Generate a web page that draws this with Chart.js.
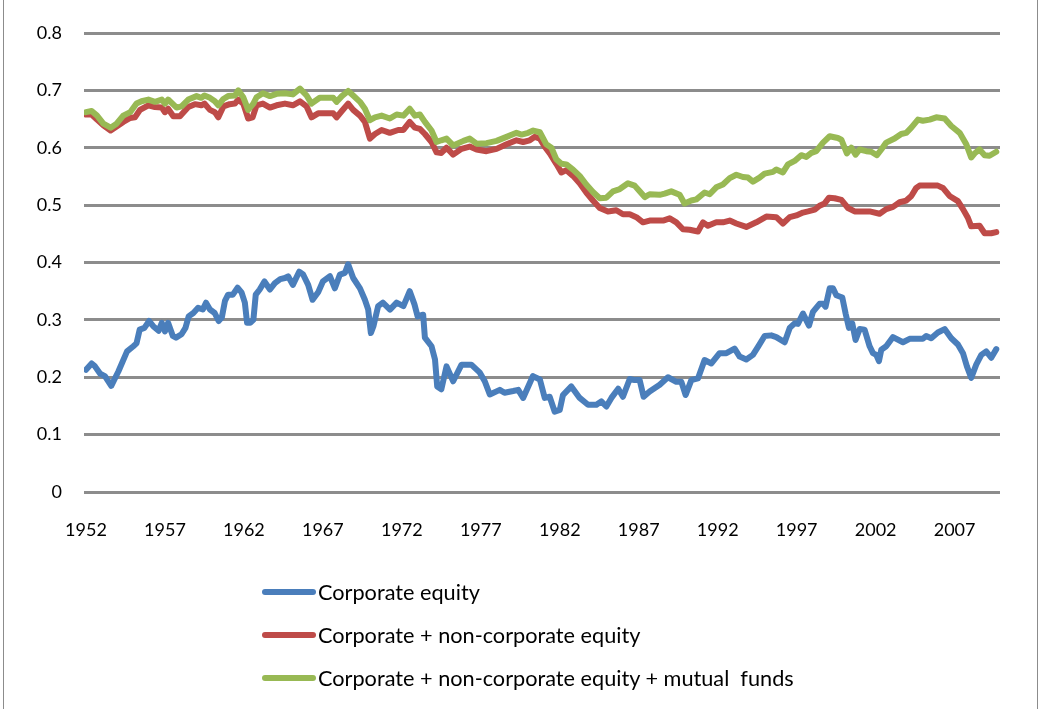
<!DOCTYPE html>
<html>
<head>
<meta charset="utf-8">
<script src="https://cdn.jsdelivr.net/npm/chart.js@4/dist/chart.umd.min.js"></script>
<style>
  body { margin: 0; background: #fff; }
  #wrap { position: relative; width: 1041px; height: 709px; }
  #frame {
    position: absolute; left: 3px; top: 0; width: 1033px; height: 709px;
    border-left: 1px solid #8c8c8c; border-right: 1px solid #8c8c8c;
    pointer-events: none;
  }
  #legend {
    position: absolute; left: 262px; top: 570px;
    font-family: Lato, "Liberation Sans", sans-serif; font-size: 21.7px; color: #000;
  }
  .item { display: flex; align-items: center; height: 43px; white-space: pre; }
  .swatch { width: 54px; height: 6px; border-radius: 3px; margin-right: 2px; }
</style>
</head>
<body>
<div id="wrap">
  <canvas id="chart"></canvas>
  <div id="frame"></div>
  <div id="legend"></div>
</div>
<script>
// year positions (fractional, quarterly-ish) and shares
const equityYears = [1952.0, 1952.36, 1952.57, 1952.9, 1953.2, 1953.6, 1954.05, 1954.6, 1955.0, 1955.2, 1955.4, 1955.7, 1956.0, 1956.26, 1956.6, 1956.8, 1957.0, 1957.2, 1957.5, 1957.7, 1958.05, 1958.3, 1958.5, 1958.8, 1959.1, 1959.4, 1959.6, 1959.85, 1960.15, 1960.4, 1960.6, 1960.8, 1961.0, 1961.3, 1961.6, 1961.85, 1962.06, 1962.2, 1962.4, 1962.6, 1962.75, 1963.0, 1963.3, 1963.65, 1963.96, 1964.3, 1964.6, 1964.8, 1965.1, 1965.5, 1965.75, 1966.07, 1966.35, 1966.7, 1967.0, 1967.45, 1967.76, 1968.08, 1968.4, 1968.6, 1968.92, 1969.35, 1969.66, 1969.87, 1970.04, 1970.2, 1970.5, 1970.8, 1971.25, 1971.67, 1972.1, 1972.5, 1972.8, 1973.0, 1973.35, 1973.46, 1973.88, 1974.1, 1974.24, 1974.5, 1974.83, 1975.25, 1975.78, 1976.4, 1976.94, 1977.25, 1977.57, 1978.2, 1978.5, 1979.05, 1979.37, 1979.68, 1980.3, 1980.74, 1981.05, 1981.36, 1981.68, 1982.0, 1982.2, 1982.73, 1983.26, 1983.79, 1984.32, 1984.63, 1984.95, 1985.27, 1985.7, 1986.0, 1986.43, 1986.74, 1987.06, 1987.31, 1987.69, 1988.33, 1988.85, 1989.38, 1989.7, 1989.97, 1990.33, 1990.75, 1991.17, 1991.6, 1992.12, 1992.55, 1993.07, 1993.39, 1993.81, 1994.23, 1994.55, 1994.97, 1995.39, 1995.71, 1996.24, 1996.56, 1996.87, 1997.08, 1997.4, 1997.78, 1998.03, 1998.45, 1998.67, 1998.83, 1999.09, 1999.3, 1999.51, 1999.89, 2000.1, 2000.31, 2000.52, 2000.73, 2000.99, 2001.3, 2001.62, 2001.83, 2002.04, 2002.21, 2002.36, 2002.67, 2003.1, 2003.73, 2004.15, 2004.99, 2005.2, 2005.52, 2005.94, 2006.37, 2006.79, 2007.21, 2007.53, 2007.78, 2008.05, 2008.37, 2008.69, 2009.0, 2009.32, 2009.64];
const equityValues = [0.213, 0.224, 0.219, 0.206, 0.202, 0.185, 0.21, 0.245, 0.254, 0.259, 0.283, 0.286, 0.298, 0.289, 0.281, 0.295, 0.28, 0.295, 0.272, 0.269, 0.275, 0.286, 0.306, 0.312, 0.321, 0.318, 0.33, 0.318, 0.312, 0.298, 0.304, 0.333, 0.344, 0.344, 0.356, 0.348, 0.33, 0.295, 0.295, 0.3, 0.344, 0.353, 0.367, 0.353, 0.364, 0.371, 0.373, 0.376, 0.361, 0.384, 0.379, 0.361, 0.335, 0.348, 0.367, 0.376, 0.355, 0.379, 0.382, 0.397, 0.373, 0.355, 0.335, 0.318, 0.277, 0.289, 0.324, 0.33, 0.318, 0.33, 0.324, 0.35, 0.327, 0.306, 0.309, 0.269, 0.254, 0.231, 0.184, 0.179, 0.219, 0.193, 0.222, 0.222, 0.208, 0.193, 0.17, 0.178, 0.173, 0.176, 0.178, 0.164, 0.202, 0.196, 0.164, 0.166, 0.14, 0.143, 0.169, 0.184, 0.164, 0.152, 0.152, 0.158, 0.149, 0.164, 0.18, 0.166, 0.197, 0.195, 0.195, 0.166, 0.175, 0.187, 0.2, 0.192, 0.192, 0.169, 0.195, 0.198, 0.23, 0.224, 0.242, 0.242, 0.25, 0.236, 0.231, 0.239, 0.253, 0.272, 0.273, 0.27, 0.261, 0.286, 0.294, 0.293, 0.311, 0.29, 0.314, 0.328, 0.328, 0.323, 0.355, 0.355, 0.343, 0.339, 0.311, 0.286, 0.294, 0.265, 0.284, 0.283, 0.254, 0.242, 0.239, 0.228, 0.248, 0.254, 0.27, 0.261, 0.267, 0.267, 0.272, 0.268, 0.278, 0.284, 0.268, 0.257, 0.242, 0.219, 0.199, 0.222, 0.239, 0.245, 0.234, 0.249];

const nonCorpYears = [1952.0, 1952.36, 1952.7, 1953.1, 1953.56, 1953.94, 1954.36, 1954.8, 1955.1, 1955.42, 1955.95, 1956.37, 1956.8, 1957.0, 1957.2, 1957.53, 1957.95, 1958.48, 1958.9, 1959.3, 1959.5, 1959.85, 1960.16, 1960.38, 1960.7, 1961.1, 1961.43, 1961.64, 1961.96, 1962.27, 1962.55, 1962.8, 1963.2, 1963.65, 1964.07, 1964.6, 1965.1, 1965.55, 1965.97, 1966.28, 1966.7, 1967.66, 1967.87, 1968.2, 1968.6, 1968.92, 1969.35, 1969.66, 1969.98, 1970.3, 1970.72, 1971.24, 1971.77, 1972.1, 1972.5, 1972.83, 1973.14, 1973.46, 1973.88, 1974.2, 1974.5, 1974.83, 1975.25, 1975.78, 1976.3, 1976.73, 1977.36, 1978.0, 1978.63, 1979.26, 1979.68, 1980.1, 1980.42, 1980.74, 1981.05, 1981.37, 1981.78, 1982.1, 1982.42, 1982.84, 1983.26, 1983.68, 1984.1, 1984.53, 1985.05, 1985.58, 1986.0, 1986.43, 1986.85, 1987.27, 1987.69, 1988.11, 1988.54, 1988.96, 1989.38, 1989.8, 1990.22, 1990.75, 1991.07, 1991.38, 1991.91, 1992.33, 1992.76, 1993.18, 1993.81, 1994.44, 1995.08, 1995.71, 1996.13, 1996.56, 1996.98, 1997.4, 1997.72, 1998.14, 1998.45, 1998.77, 1999.05, 1999.4, 1999.83, 2000.25, 2000.67, 2001.09, 2001.62, 2002.25, 2002.67, 2003.1, 2003.52, 2003.94, 2004.26, 2004.57, 2004.78, 2005.42, 2005.94, 2006.26, 2006.68, 2007.21, 2007.53, 2007.84, 2008.05, 2008.58, 2008.9, 2009.32, 2009.64];
const nonCorpValues = [0.658, 0.658, 0.649, 0.639, 0.63, 0.637, 0.645, 0.652, 0.653, 0.666, 0.674, 0.671, 0.67, 0.662, 0.668, 0.655, 0.655, 0.671, 0.676, 0.674, 0.677, 0.666, 0.662, 0.653, 0.672, 0.676, 0.677, 0.684, 0.677, 0.651, 0.653, 0.674, 0.677, 0.67, 0.674, 0.677, 0.674, 0.681, 0.672, 0.653, 0.66, 0.66, 0.653, 0.664, 0.677, 0.666, 0.656, 0.645, 0.616, 0.624, 0.631, 0.626, 0.631, 0.631, 0.645, 0.635, 0.633, 0.624, 0.61, 0.592, 0.591, 0.6, 0.588, 0.598, 0.602, 0.597, 0.594, 0.598, 0.606, 0.613, 0.61, 0.613, 0.619, 0.616, 0.602, 0.59, 0.572, 0.557, 0.561, 0.551, 0.538, 0.522, 0.508, 0.495, 0.489, 0.491, 0.484, 0.484, 0.479, 0.47, 0.473, 0.473, 0.473, 0.477, 0.47, 0.458, 0.457, 0.454, 0.47, 0.464, 0.47, 0.47, 0.473, 0.468, 0.462, 0.47, 0.48, 0.479, 0.468, 0.479, 0.482, 0.487, 0.489, 0.492, 0.499, 0.503, 0.513, 0.512, 0.509, 0.495, 0.489, 0.489, 0.489, 0.485, 0.493, 0.497, 0.505, 0.508, 0.516, 0.53, 0.534, 0.534, 0.534, 0.53, 0.516, 0.507, 0.493, 0.478, 0.463, 0.464, 0.451, 0.451, 0.453];

const fundsYears = [1952.0, 1952.36, 1952.7, 1953.1, 1953.56, 1953.94, 1954.36, 1954.8, 1955.2, 1955.52, 1955.95, 1956.37, 1956.8, 1957.0, 1957.2, 1957.74, 1958.05, 1958.48, 1959.0, 1959.3, 1959.5, 1959.85, 1960.16, 1960.38, 1960.7, 1961.0, 1961.43, 1961.64, 1961.96, 1962.27, 1962.6, 1962.8, 1963.2, 1963.65, 1964.07, 1964.6, 1965.1, 1965.55, 1965.97, 1966.28, 1966.8, 1967.66, 1967.87, 1968.2, 1968.6, 1968.92, 1969.35, 1969.66, 1969.98, 1970.3, 1970.72, 1971.24, 1971.67, 1972.1, 1972.5, 1972.83, 1973.14, 1973.46, 1973.88, 1974.2, 1974.5, 1974.83, 1975.25, 1975.9, 1976.3, 1976.73, 1977.36, 1978.0, 1978.63, 1979.26, 1979.58, 1980.0, 1980.32, 1980.74, 1981.15, 1981.47, 1981.78, 1982.1, 1982.42, 1982.84, 1983.26, 1983.68, 1984.1, 1984.53, 1984.95, 1985.37, 1985.8, 1986.32, 1986.74, 1987.06, 1987.38, 1987.69, 1988.33, 1988.64, 1989.06, 1989.59, 1989.9, 1990.33, 1990.65, 1991.17, 1991.49, 1991.91, 1992.33, 1992.76, 1993.18, 1993.6, 1993.92, 1994.23, 1994.65, 1994.97, 1995.5, 1995.71, 1996.13, 1996.45, 1996.87, 1997.29, 1997.61, 1997.93, 1998.24, 1998.67, 1999.09, 1999.61, 1999.83, 2000.18, 2000.46, 2000.73, 2000.99, 2001.41, 2001.72, 2002.08, 2002.36, 2002.67, 2003.2, 2003.62, 2003.94, 2004.26, 2004.68, 2004.99, 2005.42, 2005.84, 2006.37, 2006.79, 2007.32, 2007.74, 2008.05, 2008.26, 2008.58, 2008.9, 2009.21, 2009.64];
const fundsValues = [0.662, 0.664, 0.656, 0.642, 0.635, 0.642, 0.656, 0.662, 0.677, 0.681, 0.684, 0.68, 0.684, 0.677, 0.684, 0.67, 0.672, 0.684, 0.69, 0.687, 0.691, 0.687, 0.681, 0.674, 0.685, 0.69, 0.691, 0.7, 0.688, 0.666, 0.677, 0.688, 0.695, 0.69, 0.694, 0.695, 0.693, 0.703, 0.691, 0.677, 0.687, 0.687, 0.68, 0.69, 0.699, 0.691, 0.68, 0.668, 0.648, 0.653, 0.656, 0.651, 0.658, 0.656, 0.668, 0.656, 0.658, 0.645, 0.63, 0.61, 0.613, 0.616, 0.604, 0.612, 0.616, 0.607, 0.608, 0.612, 0.619, 0.626, 0.623, 0.626, 0.63, 0.627, 0.606, 0.6, 0.58, 0.572, 0.571, 0.562, 0.551, 0.536, 0.523, 0.512, 0.513, 0.524, 0.528, 0.538, 0.534, 0.524, 0.514, 0.519, 0.518, 0.52, 0.524, 0.518, 0.503, 0.508, 0.51, 0.522, 0.519, 0.531, 0.536, 0.547, 0.553, 0.549, 0.548, 0.541, 0.548, 0.555, 0.558, 0.562, 0.557, 0.571, 0.577, 0.587, 0.584, 0.591, 0.594, 0.609, 0.62, 0.617, 0.614, 0.59, 0.6, 0.588, 0.597, 0.594, 0.593, 0.587, 0.597, 0.609, 0.616, 0.624, 0.626, 0.635, 0.649, 0.647, 0.649, 0.653, 0.651, 0.638, 0.626, 0.606, 0.583, 0.59, 0.597, 0.587, 0.586, 0.593];

const tickYears = [1952, 1957, 1962, 1967, 1972, 1977, 1982, 1987, 1992, 1997, 2002, 2007];
const seriesNames = [
  "Corporate equity",
  "Corporate + non-corporate equity",
  "Corporate + non-corporate equity + mutual  funds",
];
const seriesColors = ["#4a7ebb", "#be4b48", "#98b954"];

const toPoints = (xs, ys) => xs.map((x, i) => ({ x: x, y: ys[i] }));

const lineStyle = (i) => ({
  label: seriesNames[i],
  borderColor: seriesColors[i],
  backgroundColor: seriesColors[i],
  borderWidth: 6,
  pointRadius: 0,
  tension: 0,
  borderJoinStyle: "round",
  borderCapStyle: "round",
  order: 2 - i, // later series sit on top, like Excel
});

const font = { family: "Lato, 'Liberation Sans', sans-serif", size: 18 };

const chart = new Chart(document.getElementById("chart"), {
  type: "line",
  data: {
    datasets: [
      { ...lineStyle(0), data: toPoints(equityYears, equityValues) },
      { ...lineStyle(1), data: toPoints(nonCorpYears, nonCorpValues) },
      { ...lineStyle(2), data: toPoints(fundsYears, fundsValues) },
    ],
  },
  options: {
    responsive: true,
    maintainAspectRatio: false,
    animation: false,
    layout: { padding: { top: 33, left: 0, right: 41, bottom: 157 } },
    plugins: {
      legend: { display: false },
      tooltip: { enabled: false },
    },
    scales: {
      x: {
        type: "linear",
        min: 1951.875,
        max: 2009.875,
        grid: { display: false, drawTicks: false },
        border: { display: false },
        afterBuildTicks: (scale) => {
          scale.ticks = tickYears.map((v) => ({ value: v }));
        },
        afterFit: (scale) => {
          scale.height = 60;
        },
        ticks: {
          color: "#000",
          font: font,
          padding: 27,
          maxRotation: 0,
          autoSkip: false,
          callback: (value) => String(value),
        },
      },
      y: {
        min: 0,
        max: 0.8,
        grid: { color: "#8c8c8c", lineWidth: 3, drawTicks: false },
        border: { display: false },
        afterFit: (scale) => {
          scale.width = 84;
        },
        ticks: {
          stepSize: 0.1,
          color: "#000",
          font: font,
          padding: 22,
        },
      },
    },
  },
});

// legend as a plain vertical list under the plot
const legendBox = document.getElementById("legend");
chart.data.datasets.forEach((ds) => {
  const row = document.createElement("div");
  row.className = "item";
  const sw = document.createElement("span");
  sw.className = "swatch";
  sw.style.background = ds.borderColor;
  const txt = document.createElement("span");
  txt.textContent = ds.label;
  row.appendChild(sw);
  row.appendChild(txt);
  legendBox.appendChild(row);
});
</script>
</body>
</html>
